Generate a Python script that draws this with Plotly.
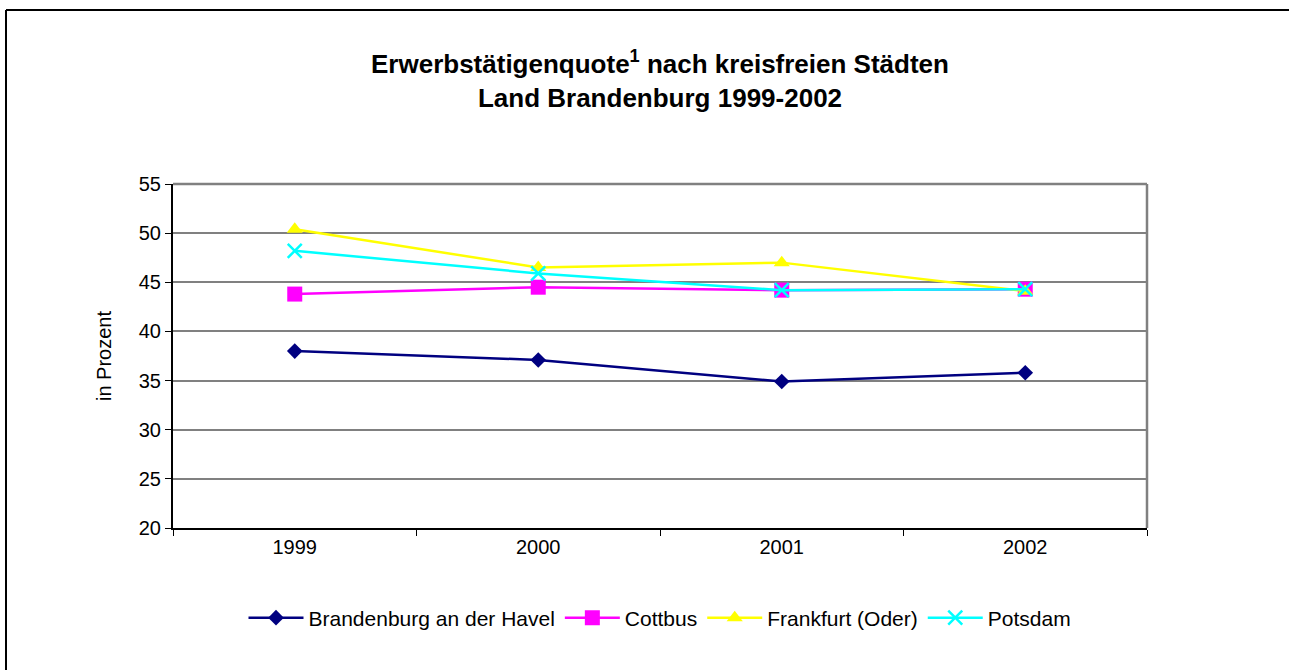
import plotly.graph_objects as go

years = ["1999", "2000", "2001", "2002"]
brandenburg = [38.0, 37.1, 34.9, 35.8]
cottbus = [43.8, 44.5, 44.2, 44.3]
frankfurt = [50.4, 46.5, 47.0, 44.1]
potsdam = [48.2, 45.9, 44.2, 44.3]

series = [
    ("Brandenburg an der Havel", brandenburg, "#000080", "diamond", 12, 0),
    ("Cottbus", cottbus, "#FF00FF", "square", 15, 0),
    ("Frankfurt (Oder)", frankfurt, "#FFFF00", "triangle-up", 14, 0),
    ("Potsdam", potsdam, "#00FFFF", "x-thin-open", 14, 2.5),
]

fig = go.Figure()
for name, vals, color, sym, size, lw in series:
    marker = dict(symbol=sym, size=size, color=color)
    if lw:
        marker["line"] = dict(color=color, width=lw)
    fig.add_trace(go.Scatter(
        x=years, y=vals, name=name, mode="lines+markers",
        line=dict(color=color, width=2.5), marker=marker,
    ))

L, T, W, H = 173, 184, 974, 344
fig.update_layout(
    width=1289, height=670,
    margin=dict(l=L, r=1289 - L - W, t=T, b=670 - T - H, pad=0),
    paper_bgcolor="white", plot_bgcolor="white",
    font=dict(family="Liberation Sans, Arial, sans-serif", size=20, color="black"),
    title=dict(
        text="<b>Erwerbstätigenquote<sup>1</sup> nach kreisfreien Städten<br>Land Brandenburg 1999-2002</b>",
        x=0.5, xref="paper", xanchor="center", y=1 - 73 / 670, yanchor="middle",
        font=dict(size=26, color="black"),
    ),
    showlegend=True,
    legend=dict(orientation="h", x=0.5, xanchor="center",
                y=(T + H - 618) / H, yanchor="middle",
                font=dict(size=21), itemwidth=55, traceorder="normal"),
    xaxis=dict(
        type="category", range=[-0.5, 3.5], tickson="boundaries",
        ticks="outside", ticklen=6, tickcolor="black",
        showline=True, linecolor="black", linewidth=2, mirror=False,
        showgrid=False, tickfont=dict(size=20),
    ),
    yaxis=dict(
        range=[20, 55], dtick=5, ticks="outside", ticklen=6, tickcolor="black",
        showline=True, linecolor="black", linewidth=2,
        showgrid=True, gridcolor="#808080", gridwidth=1.5,
        zeroline=False, tickfont=dict(size=20),
        title=dict(text="in Prozent", font=dict(size=20), standoff=22),
    ),
    shapes=[
        dict(type="line", xref="paper", yref="paper", x0=0, x1=1, y0=1, y1=1,
             line=dict(color="#808080", width=2.5)),
        dict(type="line", xref="paper", yref="paper", x0=1, x1=1, y0=0, y1=1,
             line=dict(color="#808080", width=2.5)),
        dict(type="line", xref="paper", yref="paper",
             x0=(6 - L) / W, x1=(1400 - L) / W,
             y0=(T + H - 10) / H, y1=(T + H - 10) / H,
             line=dict(color="black", width=2), layer="below"),
        dict(type="line", xref="paper", yref="paper",
             x0=(6 - L) / W, x1=(6 - L) / W,
             y0=(T + H - 800) / H, y1=(T + H - 10) / H,
             line=dict(color="black", width=2), layer="below"),
    ],
)

fig.write_html("out.html", config={"displayModeBar": False},
               post_script="document.body.style.margin='0';")
